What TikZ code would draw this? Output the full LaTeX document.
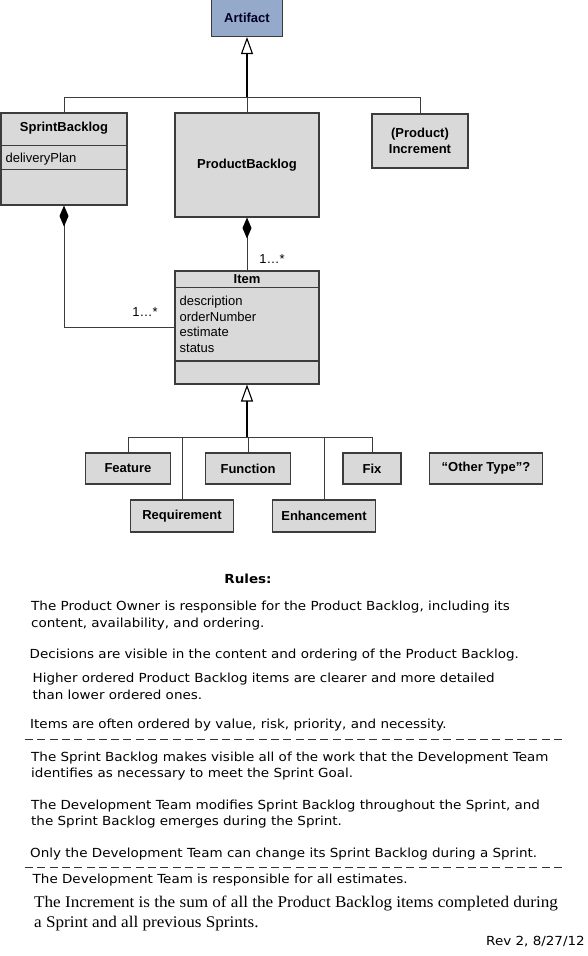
\documentclass[tikz,border=0pt]{standalone}
\usepackage{fontspec}
\setmainfont{Liberation Sans}
\newfontfamily\rulesfont[FakeStretch=1.08]{DejaVu Sans}
\newfontfamily\incrementfont[FakeStretch=1.05]{Liberation Serif}
\usetikzlibrary{arrows.meta,positioning,calc}
\definecolor{artifactcolor}{RGB}{149,170,203}
\definecolor{classcolor}{RGB}{217,217,217}
\definecolor{classborder}{RGB}{60,60,60}
\tikzset{
  classbox/.style={draw=classborder,fill=classcolor,line width=1.1pt,inner sep=0pt,
    font=\bfseries\fontsize{13}{16}\selectfont,align=center},
  classtext/.style={inner sep=0pt,font=\bfseries\fontsize{13}{16}\selectfont,align=center},
  attrtext/.style={inner sep=0pt,anchor=base west,font=\fontsize{13}{15.7}\selectfont,align=left},
  multtext/.style={inner sep=0pt,font=\fontsize{13}{15}\selectfont},
  link/.style={draw=classborder,line width=0.9pt},
  generalize/.style={draw=black,line width=1.8pt,
    arrows={-Triangle[open,length=17pt,width=12pt,line width=1.1pt]}},
  compose/.style={link,arrows={Diamond[length=21pt,width=9pt,color=black,fill=black]-}},
  ruletext/.style={inner sep=0pt,anchor=base west,font=\rulesfont\fontsize{12.5}{16.3}\selectfont,align=left},
  rulesep/.style={draw=black!80,line width=0.8pt,dash pattern=on 8pt off 4.3pt},
}

\begin{document}
\begin{tikzpicture}[x=1pt,y=-1pt]
  \useasboundingbox (0,0) rectangle (588,956);

  % draw classes
  \node[classbox,fill=artifactcolor,minimum width=71pt,minimum height=37pt,text=black!85!blue] (artifact) at (247,18) {Artifact};
  \node[classbox,minimum width=126pt,minimum height=92pt] (sprint) at (64,159) {};
  \node[classbox,minimum width=144pt,minimum height=104pt] (product) at (247,165) {ProductBacklog};
  \node[classbox,minimum width=96pt,minimum height=54pt] (increment) at (420,141) {(Product)\\Increment};
  \node[classbox,minimum width=144pt,minimum height=113pt] (item) at (247,327.5) {};

  % compartments of SprintBacklog
  \node[classtext] (sprint title) at ($(sprint.north)+(0,16)$) {SprintBacklog};
  \draw[link,line width=1.1pt] ($(sprint.north west)+(0,33)$) -- ($(sprint.north east)+(0,33)$);
  \draw[link,line width=1.1pt] ($(sprint.north west)+(0,57)$) -- ($(sprint.north east)+(0,57)$);
  \node[attrtext] (sprint attr) at ($(sprint.north west)+(5,50)$) {deliveryPlan};

  % compartments of Item (base of the last line)
  \node[classtext] (item title) at ($(item.north)+(0,8.5)$) {Item};
  \draw[link,line width=1.1pt] ($(item.north west)+(0,17)$) -- ($(item.north east)+(0,17)$);
  \draw[link,line width=2pt] ($(item.north west)+(0,91)$) -- ($(item.north east)+(0,91)$);
  \node[attrtext] (item attr) at ($(item.north west)+(5,82)$) {description\\orderNumber\\estimate\\status};

  % draw subclasses of Item
  \node[classbox,minimum width=85pt,minimum height=31pt] (feature) at (128,468.5) {Feature};
  \node[classbox,minimum width=85pt,minimum height=31pt] (function) at (248,468.5) {Function};
  \node[classbox,minimum width=58pt,minimum height=31pt] (fix) at (372,468.5) {Fix};
  \node[classbox,minimum width=113pt,minimum height=31pt] (other) at (486,468.5) {``Other Type''?};
  \node[classbox,minimum width=103pt,minimum height=32pt] (requirement) at (182,516) {Requirement};
  \node[classbox,minimum width=103pt,minimum height=32pt] (enhancement) at (324,516) {Enhancement};

  % generalization to Artifact
  \coordinate (artifact join) at (247,97);
  \draw[link] (artifact join) -| (sprint.north);
  \draw[link] (artifact join) -| (increment.north);
  \draw[link] (artifact join) -- (product.north);
  \draw[generalize] (artifact join) -- (artifact.south);

  % generalization to Item
  \coordinate (item join) at (247,437);
  \draw[link] (item join) -| (feature.north);
  \draw[link] (item join) -| (requirement.north);
  \draw[link] (item join) -| (function.north);
  \draw[link] (item join) -| (enhancement.north);
  \draw[link] (item join) -| (fix.north);
  \draw[generalize] (item join) -- (item.south);

  % composition of items
  \draw[compose] (sprint.south) |- (item.west);
  \draw[compose] (product.south) -- (item.north);
  \node[multtext] (sprint mult) at (145,312) {1…*};
  \node[multtext] (product mult) at (272,259) {1…*};

  % rules (multi-line texts sit on the base of their last line)
  \node[inner sep=0pt,anchor=base,font=\rulesfont\bfseries\fontsize{12.5}{14}\selectfont] (rules) at (248,583) {Rules:};
  \node[ruletext] (rule owner) at (31,627) {The Product Owner is responsible for the Product Backlog, including its\\content, availability, and ordering.};
  \node[ruletext] (rule decisions) at (29.5,658) {Decisions are visible in the content and ordering of the Product Backlog.};
  \node[ruletext] (rule higher) at (32.5,699) {Higher ordered Product Backlog items are clearer and more detailed\\than lower ordered ones.};
  \node[ruletext] (rule order) at (30,728) {Items are often ordered by value, risk, priority, and necessity.};
  \coordinate (sep1 start) at (25,739);
  \coordinate (sep1 end) at (564,739);
  \draw[rulesep] (sep1 start) -- (sep1 end);
  \node[ruletext,font=\rulesfont\fontsize{12.5}{15.3}\selectfont] (rule visible) at (31,777) {The Sprint Backlog makes visible all of the work that the Development Team\\identifies as necessary to meet the Sprint Goal.};
  \node[ruletext,font=\rulesfont\fontsize{12.5}{15.3}\selectfont] (rule modifies) at (31,825) {The Development Team modifies Sprint Backlog throughout the Sprint, and\\the Sprint Backlog emerges during the Sprint.};
  \node[ruletext] (rule only) at (30,857) {Only the Development Team can change its Sprint Backlog during a Sprint.};
  \coordinate (sep2 start) at (25,867);
  \coordinate (sep2 end) at (564,867);
  \draw[rulesep] (sep2 start) -- (sep2 end);
  \node[ruletext] (rule estimates) at (32.5,883) {The Development Team is responsible for all estimates.};
  \node[ruletext,font=\incrementfont\fontsize{16.3}{20}\selectfont] (rule increment) at (34,927) {The Increment is the sum of all the Product Backlog items completed during\\a Sprint and all previous Sprints.};
  \node[inner sep=0pt,anchor=base east,font=\rulesfont\fontsize{12.5}{14}\selectfont] (revision) at (585,945) {Rev 2, 8/27/12};
\end{tikzpicture}
\end{document}
